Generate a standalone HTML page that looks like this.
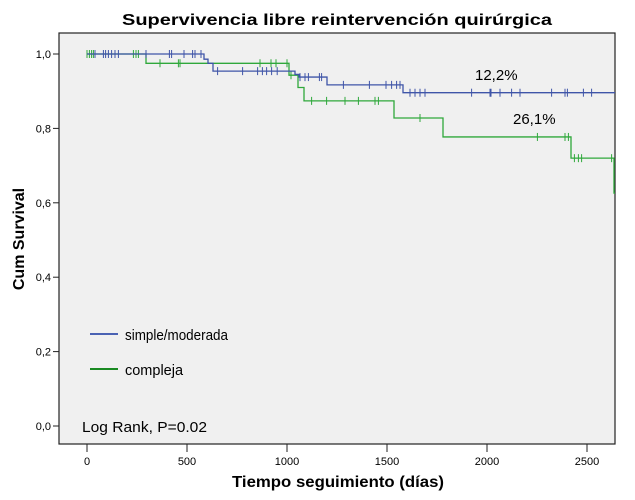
<!DOCTYPE html>
<html><head><meta charset="utf-8"><style>
body{margin:0;background:#fff;font-family:"Liberation Sans",sans-serif}
svg{display:block}
</style></head><body>
<svg id="chart" width="635" height="500">
<rect x="59" y="33" width="556" height="411" fill="#f0f0f0" stroke="#222" stroke-width="1.2"/>
<text x="122" y="25" font-size="16" font-weight="bold" textLength="430" lengthAdjust="spacingAndGlyphs">Supervivencia libre reintervención quirúrgica</text>
<text x="232" y="487" font-size="16" font-weight="bold" textLength="212" lengthAdjust="spacingAndGlyphs">Tiempo seguimiento (días)</text>
<text transform="translate(24,239) rotate(-90)" text-anchor="middle" font-size="16" font-weight="bold">Cum Survival</text>
<g id="ticks"></g>
<g id="series"></g>
<line x1="90" y1="334" x2="118" y2="334" stroke="#4a62b3" stroke-width="2"/>
<text x="125" y="340" font-size="15" textLength="103" lengthAdjust="spacingAndGlyphs">simple/moderada</text>
<line x1="90" y1="369" x2="118" y2="369" stroke="#1a8a22" stroke-width="2"/>
<text x="125" y="375" font-size="15" textLength="58" lengthAdjust="spacingAndGlyphs">compleja</text>
<text x="82" y="432" font-size="15" textLength="125" lengthAdjust="spacingAndGlyphs">Log Rank, P=0.02</text>
<text x="475" y="80" font-size="15">12,2%</text>
<text x="513" y="124" font-size="15">26,1%</text>
</svg>
<script>
const xTicks=[0,500,1000,1500,2000,2500];
const yTicks=[0,0.2,0.4,0.6,0.8,1.0];
const yTickLabels=["0,0","0,2","0,4","0,6","0,8","1,0"];
const blueStepDays=[0,585,605,630,1040,1060,1200,1580];
const blueStepSurv=[1.0,0.986,0.975,0.954,0.945,0.938,0.917,0.896];
const blueCensorDays=[40,82,93,107,123,140,157,295,412,423,485,528,540,570,653,778,853,877,898,923,951,1065,1090,1107,1162,1173,1282,1412,1495,1523,1548,1565,1615,1640,1665,1690,1923,2015,2020,2065,2123,2165,2323,2390,2402,2482,2523];
const greenStepDays=[0,295,1010,1055,1085,1535,1780,2420,2635];
const greenStepSurv=[1.0,0.975,0.943,0.91,0.874,0.828,0.777,0.72,0.626];
const greenCensorDays=[0,12,23,32,232,245,257,365,457,465,865,920,945,1000,1020,1123,1198,1290,1357,1440,1457,1665,2252,2390,2407,2437,2457,2473,2623];
const maxDay=2640;
const NS="http://www.w3.org/2000/svg";
const sx=d=>87+d*0.2;
const sy=v=>426-v*372;
function mk(tag,attrs,parent){const e=document.createElementNS(NS,tag);for(const k in attrs)e.setAttribute(k,attrs[k]);parent.appendChild(e);return e;}
const tg=document.getElementById('ticks');
xTicks.forEach(t=>{
  const l=mk('line',{x1:sx(t),x2:sx(t),y1:444,y2:452,stroke:'#222'},tg);
  
  
  const tx=mk('text',{x:sx(t),y:465,'text-anchor':'middle','font-size':11},tg);tx.textContent=t;
  
  
});
yTicks.forEach((t,i)=>{
  const l=mk('line',{x1:53,x2:59,y1:sy(t),y2:sy(t),stroke:'#222'},tg);
  
  
  const tx=mk('text',{x:51,y:sy(t)+4,'text-anchor':'end','font-size':11},tg);tx.textContent=yTickLabels[i];
  
  
});
const sg=document.getElementById('series');
function survAt(days,surv,d){let s=surv[0];for(let i=0;i<days.length;i++){if(days[i]<=d)s=surv[i];}return s;}
function draw(days,surv,cens,color,name){
  let p='M'+sx(days[0])+','+sy(surv[0]);
  for(let i=1;i<days.length;i++){p+=' H'+sx(days[i])+' V'+sy(surv[i]);}
  p+=' H'+sx(maxDay);
  const path=mk('path',{d:p,fill:'none',stroke:color,'stroke-width':1.3},sg);
  
  
  cens.forEach(d=>{
    const y=sy(survAt(days,surv,d));
    const c=mk('line',{x1:sx(d),x2:sx(d),y1:y-4,y2:y+4,stroke:color,'stroke-width':1},sg);
    
    
  });
}
draw(greenStepDays,greenStepSurv,greenCensorDays,'#2fa83b','compleja');
draw(blueStepDays,blueStepSurv,blueCensorDays,'#3f55a8','simple');
</script>
</body></html>
